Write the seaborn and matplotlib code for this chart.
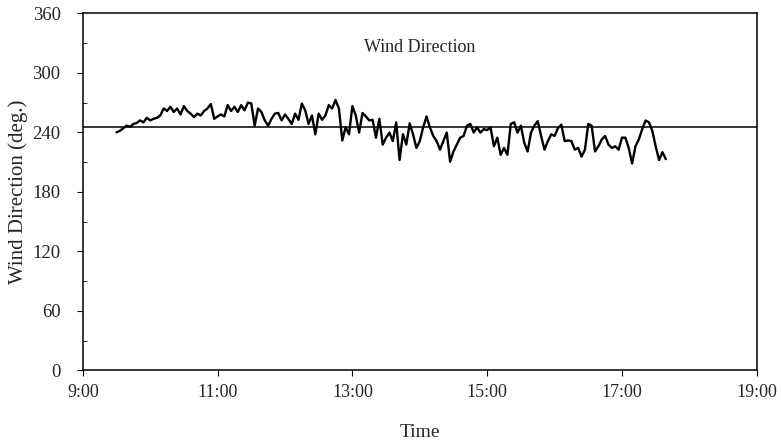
'''
Wind direction time series, 3-min samples.
'''
import numpy as np
import pandas as pd
import seaborn as sns
import matplotlib.pyplot as plt
from matplotlib.ticker import MultipleLocator, FixedLocator, FuncFormatter

# data (deg.), one value every 3 minutes starting 9:30
start_time = '09:30'
step_min = 3
dir_morning = [240, 241.5, 244, 246.7, 245.6, 248.4, 249.4, 252, 250, 254.6,
               252, 253.6, 254.6, 257, 264, 261.5, 265.7, 260.5, 264, 258,
               266.4, 261.5, 258.8, 255.3, 258.8, 257, 261.5, 264, 268.5, 253.6,
               256, 258, 256, 267.4, 261.5, 265.7, 260.5, 267.4, 262.2]
dir_midday = [269.9, 269, 246.7, 264, 260.5, 252, 246.7, 253.6, 258.8, 259.5,
              252, 258, 253.6, 248.4, 258.8, 252.6, 269, 262.2, 248.4, 257,
              238, 258.8, 252.6, 257, 267.4, 264, 272.6, 264, 231.8, 245,
              238, 266.4, 257, 239.7, 259.5, 256, 252, 252.6, 234.6, 253.6]
dir_afternoon = [227.6, 234.6, 239.7, 231.1, 250.1, 212.1, 238, 227.6, 249, 238,
                 224.2, 231.1, 245, 256, 245, 236.3, 231.1, 222.5, 231.1, 239.7,
                 210.3, 220.7, 227.6, 234.6, 236.3, 246.7, 248.4, 239.7, 245, 239.7,
                 243.2, 242.2, 245, 225.9, 234.6, 217.3, 224.2, 217.3, 248.4, 250.1]
dir_evening = [239.7, 246.7, 229.4, 220.7, 239.7, 246.7, 251.2, 236.3, 222.5, 231.1,
               238, 236.3, 244.2, 247.7, 231.1, 231.8, 231.1, 222.5, 224.2, 215.5,
               222.5, 248.4, 246.7, 220.7, 225.9, 232.8, 236.3, 227.6, 224.2, 225.9,
               222.5, 234.6, 234.6, 224.2, 208.6, 225.9, 232.8, 243.2, 251.9, 250.1,
               241.5, 225.9, 212, 220, 213]
mean_dir = 245
time_ticks = [9, 11, 13, 15, 17, 19]

values = dir_morning + dir_midday + dir_afternoon + dir_evening
times = pd.date_range('2000-01-01 ' + start_time, periods=len(values), freq=f'{step_min}min')
df = pd.DataFrame({'hour': times.hour + times.minute / 60, 'direction': values})

# setup
sns.set_style('ticks')
plt.rcParams['font.family'] = ['Liberation Serif', 'DejaVu Serif']

fig = plt.figure(figsize=(7.81, 4.41), dpi=100)
ax = fig.add_axes([0.106, 0.16, 0.863, 0.81])

sns.lineplot(data=df, x='hour', y='direction', color='black', lw=1.7, ax=ax)
ax.axhline(mean_dir, color='black', lw=1.1)

ax.set_xlim(9, 19)
ax.set_ylim(0, 360)
ax.xaxis.set_major_locator(FixedLocator(time_ticks))
ax.xaxis.set_major_formatter(FuncFormatter(lambda v, p: f'{int(v)}:00'))
ax.yaxis.set_major_locator(MultipleLocator(60))
ax.yaxis.set_minor_locator(MultipleLocator(30))
ax.tick_params(axis='x', which='major', direction='out', length=4,
               labelsize=13, color='black', pad=6)
ax.tick_params(axis='y', which='major', direction='out', length=4,
               labelsize=13.5, color='black', pad=12)
ax.tick_params(axis='y', which='minor', direction='in', length=3, color='black')
for s in ax.spines.values():
    s.set_visible(True)
    s.set_color('black')
    s.set_linewidth(1.1)

ax.set_xlabel('Time', size=14, labelpad=16)
ax.set_ylabel('Wind Direction (deg.)', size=15, labelpad=3)
ax.text(0.5, 0.905, 'Wind Direction', transform=ax.transAxes, ha='center',
        va='center', size=13)

plt.savefig('out.png', dpi=100)
